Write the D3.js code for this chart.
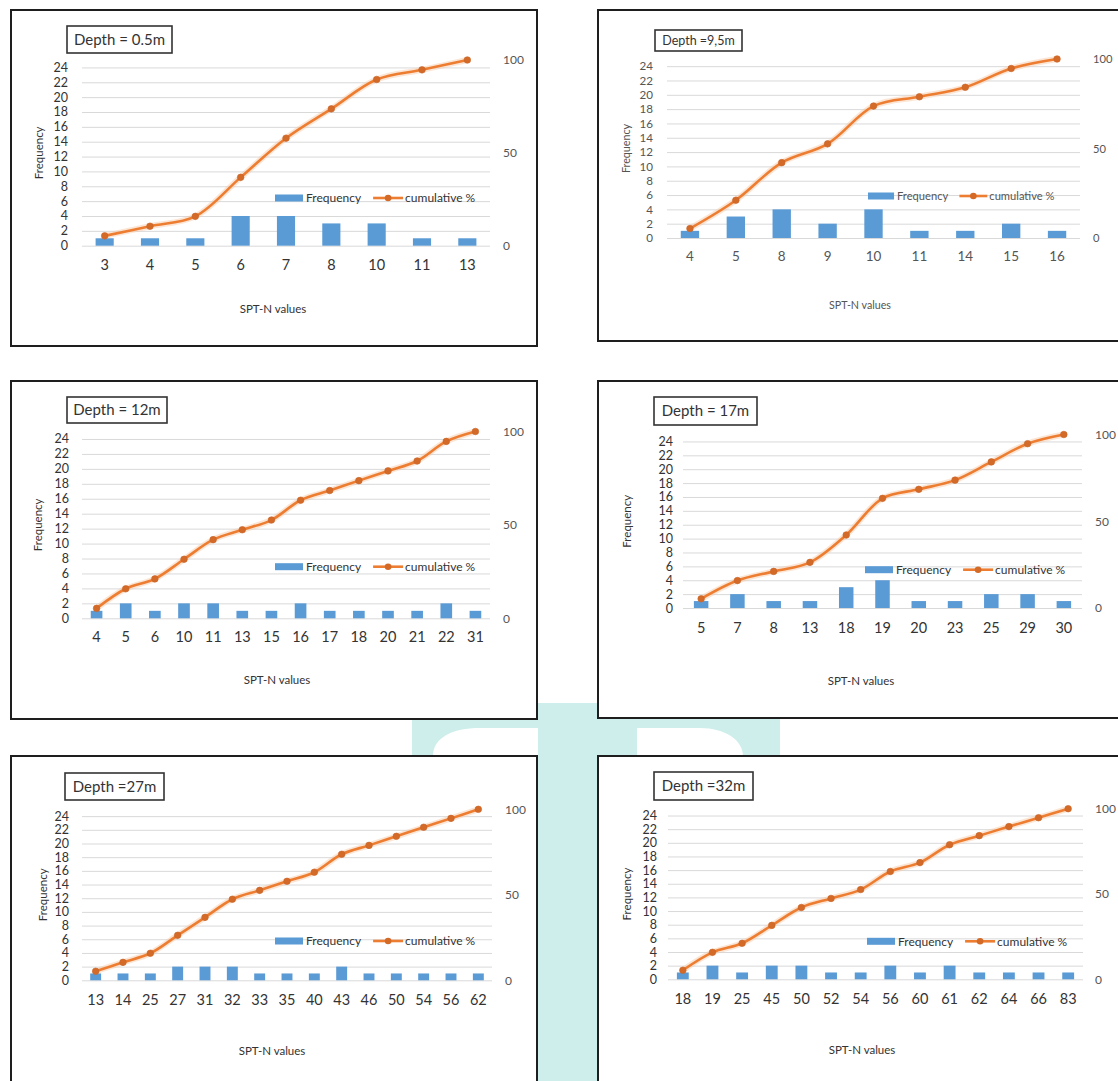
<!DOCTYPE html>
<html><head><meta charset="utf-8">
<script src="https://cdn.jsdelivr.net/npm/d3@7"></script>
<style>body{margin:0;background:#fff}svg{display:block}</style>
</head><body><svg id="c" width="1118" height="1081"></svg>
<script>
// ---------- data ----------
const depth1 = "Depth = 0.5m";
const spt1 = ["3","4","5","6","7","8","10","11","13"];
const freq1 = [1,1,1,4,4,3,3,1,1];
const cum1 = [5.3,10.5,15.8,36.8,57.9,73.7,89.5,94.7,100];

const depth2 = "Depth =9,5m";
const spt2 = ["4","5","8","9","10","11","14","15","16"];
const freq2 = [1,3,4,2,4,1,1,2,1];
const cum2 = [5.3,21.1,42.1,52.6,73.7,78.9,84.2,94.7,100];

const depth3 = "Depth = 12m";
const spt3 = ["4","5","6","10","11","13","15","16","17","18","20","21","22","31"];
const freq3 = [1,2,1,2,2,1,1,2,1,1,1,1,2,1];
const cum3 = [5.3,15.8,21.1,31.6,42.1,47.4,52.6,63.2,68.4,73.7,78.9,84.2,94.7,100];

const depth4 = "Depth = 17m";
const spt4 = ["5","7","8","13","18","19","20","23","25","29","30"];
const freq4 = [1,2,1,1,3,4,1,1,2,2,1];
const cum4 = [5.3,15.8,21.1,26.3,42.1,63.2,68.4,73.7,84.2,94.7,100];

const depth5 = "Depth =27m";
const spt5 = ["13","14","25","27","31","32","33","35","40","43","46","50","54","56","62"];
const freq5 = [1,1,1,2,2,2,1,1,1,2,1,1,1,1,1];
const cum5 = [5.3,10.5,15.8,26.3,36.8,47.4,52.6,57.9,63.2,73.7,78.9,84.2,89.5,94.7,100];

const depth6 = "Depth =32m";
const spt6 = ["18","19","25","45","50","52","54","56","60","61","62","64","66","83"];
const freq6 = [1,2,1,2,2,1,1,2,1,2,1,1,1,1];
const cum6 = [5.3,15.8,21.1,31.6,42.1,47.4,52.6,63.2,68.4,78.9,84.2,89.5,94.7,100];

const leftTicks = [0,2,4,6,8,10,12,14,16,18,20,22,24];
const rightTicks = [0,50,100];
const xTitle = "SPT-N values";
const yTitle = "Frequency";
const legendBar = "Frequency";
const legendLine = "cumulative %";

// ---------- layout ----------
const panels = [
  {depth: depth1, spt: spt1, freq: freq1, cum: cum1},
  {depth: depth2, spt: spt2, freq: freq2, cum: cum2},
  {depth: depth3, spt: spt3, freq: freq3, cum: cum3},
  {depth: depth4, spt: spt4, freq: freq4, cum: cum4},
  {depth: depth5, spt: spt5, freq: freq5, cum: cum5},
  {depth: depth6, spt: spt6, freq: freq6, cum: cum6}
];
const layout = [
  {box:[11,10,537,346], x0:82, x1:490, yB:245.7, yT:60, tickR:68, rightX:503, dBox:[67,26,105,27], dFs:15, xlabY:265, titleX:273, titleY:309, freqX:39, legX:275, legY:198, fs:1, tc:"#333"},
  {box:[598,10,1132,341], x0:667, x1:1080, yB:238, yT:59, tickR:653, rightX:1093, dBox:[655,30,87,21], dFs:12.5, xlabY:256, titleX:860, titleY:305.5, freqX:626, legX:868, legY:196, fs:0.93, tc:"#555"},
  {box:[11,381,537,719], x0:82, x1:490, yB:618.3, yT:431.5, tickR:69, rightX:503, dBox:[67,397,100,26], dFs:15, xlabY:636.7, titleX:277, titleY:680, freqX:38, legX:275, legY:566.7, fs:1, tc:"#333"},
  {box:[598,381,1132,718], x0:683, x1:1082, yB:608, yT:434.5, tickR:673, rightX:1095, dBox:[654,397,103,28], dFs:15, xlabY:628, titleX:861, titleY:680.7, freqX:627, legX:865, legY:569.7, fs:1, tc:"#333"},
  {box:[11,756,537,1100], x0:82, x1:492, yB:980.3, yT:809.3, tickR:69, rightX:505, dBox:[65,773,99,27], dFs:15, xlabY:999.7, titleX:272, titleY:1051, freqX:43, legX:275, legY:941, fs:1, tc:"#333"},
  {box:[598,756,1132,1100], x0:668, x1:1083, yB:979.3, yT:808.7, tickR:657, rightX:1095, dBox:[654,772,99,28], dFs:15, xlabY:998.7, titleX:862, titleY:1049.7, freqX:627, legX:867, legY:941.3, fs:1, tc:"#333"}
];

const FONT = "Lato, 'Open Sans', sans-serif";
const BAR = "#5B9BD5", LINE = "#ED7D31", MARK = "#D46A27";

const svg = d3.select("#c");
svg.append("rect").attr("width",1118).attr("height",1081).attr("fill","#fff");

// ---------- watermark ----------
const wm = svg.append("g").attr("fill","#ceeeec");
wm.append("rect").attr("x",538).attr("y",703).attr("width",59).attr("height",378);
wm.append("path").attr("fill-rule","evenodd")
  .attr("d","M412,719H538V756H412Z M433,756C433,738 452,728 480,728H538V756Z");
wm.append("path").attr("fill-rule","evenodd")
  .attr("d","M597,719H780V756H597Z M637,756V728H700C725,728 743,740 743,756Z");

// ---------- panels ----------
panels.forEach((d, i) => {
  const L = layout[i];
  const g = svg.append("g").attr("font-family", FONT);
  const [bx0, by0, bx1, by1] = L.box;
  g.append("rect").attr("x",bx0).attr("y",by0).attr("width",bx1-bx0).attr("height",by1-by0)
    .attr("fill","#fff").attr("stroke","#1e1e1e").attr("stroke-width",2);

  const x = d3.scaleBand().domain(d.spt).range([L.x0, L.x1]).paddingInner(0.6).paddingOuter(0.3);
  const yL = d3.scaleLinear().domain([0,25]).range([L.yB, L.yT]);
  const yR = d3.scaleLinear().domain([0,100]).range([L.yB, L.yT]);
  const cx = c => x(c) + x.bandwidth()/2;

  // gridlines
  g.append("g").attr("transform",`translate(${L.x0},0)`)
    .call(d3.axisLeft(yL).tickValues(leftTicks).tickSize(-(L.x1-L.x0)).tickFormat(""))
    .call(a => { a.select(".domain").remove(); a.selectAll("line").attr("stroke","#d9d9d9").attr("stroke-width",1); });

  // left tick labels
  g.append("g").attr("transform",`translate(${L.tickR},0)`)
    .call(d3.axisLeft(yL).tickValues(leftTicks).tickSize(0).tickPadding(0))
    .call(a => { a.select(".domain").remove(); a.attr("font-family",FONT).attr("font-size",12.5*L.fs);
      a.selectAll("text").attr("fill",L.tc); });

  // right tick labels
  g.append("g").attr("transform",`translate(${L.x1},0)`)
    .call(d3.axisRight(yR).tickValues(rightTicks).tickSize(0).tickPadding(L.rightX - L.x1))
    .call(a => { a.select(".domain").remove(); a.attr("font-family",FONT).attr("font-size",12*L.fs);
      a.selectAll("text").attr("fill","#555"); });

  // category labels
  const xfs = 14.5*L.fs;
  g.append("g").attr("transform",`translate(0,${L.yB})`)
    .call(d3.axisBottom(x).tickSize(0).tickPadding(L.xlabY - L.yB - xfs*0.36))
    .call(a => { a.select(".domain").remove(); a.attr("font-family",FONT).attr("font-size",xfs);
      a.selectAll("text").attr("fill",L.tc); });

  // bars
  g.append("g").selectAll("rect").data(d.spt).join("rect")
    .attr("x", c => x(c)).attr("width", x.bandwidth())
    .attr("y", (c,j) => yL(d.freq[j])).attr("height", (c,j) => L.yB - yL(d.freq[j]))
    .attr("fill", BAR);

  // cumulative line
  const line = d3.line().x(c => cx(c)).y((c,j) => yR(d.cum[j])).curve(d3.curveCatmullRom.alpha(0.5));
  g.append("path").attr("d", line(d.spt)).attr("fill","none").attr("stroke","#f6c6a2")
    .attr("stroke-width",6).attr("stroke-opacity",0.45);
  g.append("path").attr("d", line(d.spt)).attr("fill","none").attr("stroke",LINE).attr("stroke-width",2.6);
  g.append("g").selectAll("circle").data(d.spt).join("circle")
    .attr("cx", c => cx(c)).attr("cy", (c,j) => yR(d.cum[j])).attr("r",3.3)
    .attr("fill", MARK).attr("stroke","#c8652a").attr("stroke-width",0.6);

  // depth box
  const [dx, dy, dw, dh] = L.dBox;
  g.append("rect").attr("x",dx).attr("y",dy).attr("width",dw).attr("height",dh)
    .attr("fill","#fff").attr("stroke","#333").attr("stroke-width",1.6);
  g.append("text").attr("x",dx+dw/2).attr("y",dy+dh/2).attr("dy","0.35em")
    .attr("text-anchor","middle").attr("font-size",L.dFs).attr("fill","#333").text(d.depth);

  // axis titles
  g.append("text").attr("transform",`translate(${L.freqX},${(L.yB+L.yT)/2}) rotate(-90)`)
    .attr("dy","0.35em").attr("text-anchor","middle").attr("font-size",11.5*L.fs).attr("fill",L.tc).text(yTitle);
  g.append("text").attr("x",L.titleX).attr("y",L.titleY).attr("dy","0.35em")
    .attr("text-anchor","middle").attr("font-size",11.5*L.fs).attr("fill",L.tc).text(xTitle);

  // legend
  const lfs = 12*L.fs;
  const lg = g.append("g").attr("transform",`translate(${L.legX},${L.legY})`);
  lg.append("rect").attr("x",0).attr("y",-3.5).attr("width",28*L.fs).attr("height",7).attr("fill",BAR);
  const t1 = lg.append("text").attr("x",28*L.fs+3).attr("dy","0.35em").attr("font-size",lfs).attr("fill",L.tc).text(legendBar);
  const w1 = t1.node().getComputedTextLength();
  const lx = 28*L.fs + 3 + w1 + 12*L.fs;
  const lw = 30*L.fs;
  lg.append("line").attr("x1",lx).attr("x2",lx+lw).attr("y1",0).attr("y2",0).attr("stroke",LINE).attr("stroke-width",2.6);
  lg.append("circle").attr("cx",lx+lw/2).attr("cy",0).attr("r",3.3).attr("fill",MARK);
  lg.append("text").attr("x",lx+lw+2).attr("dy","0.35em").attr("font-size",lfs).attr("fill",L.tc).text(legendLine);
});
</script>
</body></html>
